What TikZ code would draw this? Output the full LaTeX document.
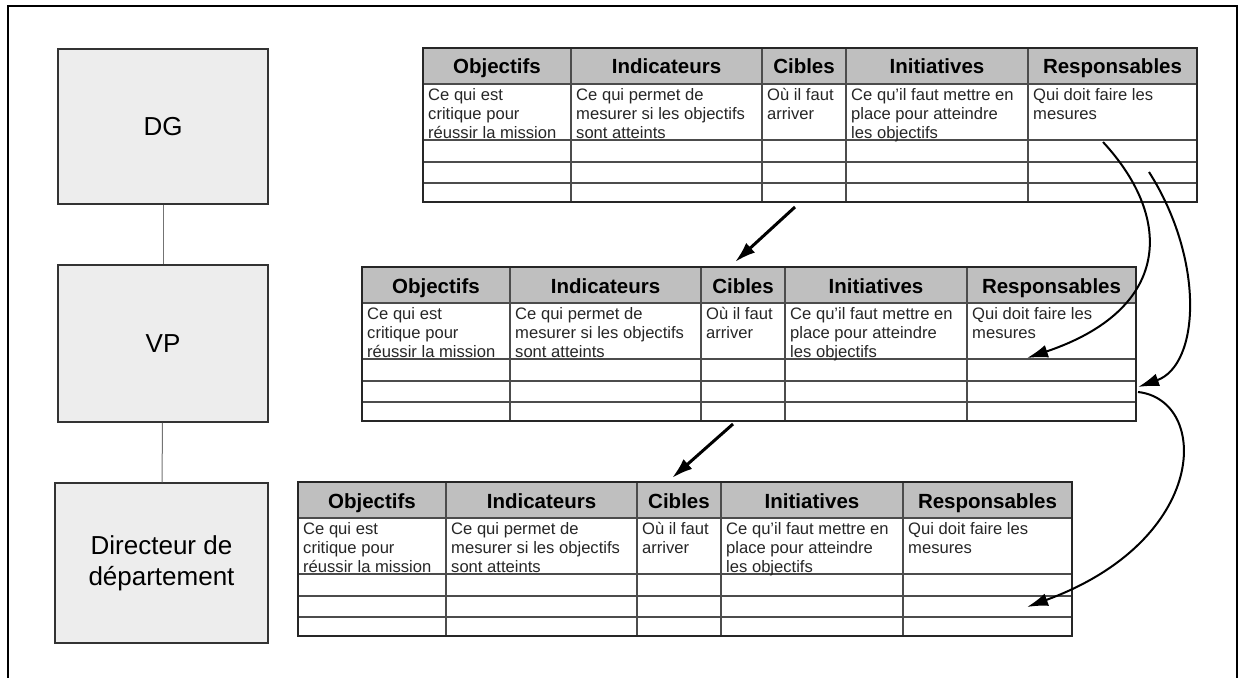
\documentclass[tikz,border=0pt]{standalone}
\usepackage{fontspec}
\setmainfont{Liberation Sans}
\usepackage{tikz}
\usetikzlibrary{arrows.meta, positioning, calc}

\begin{document}
\begin{tikzpicture}[x=1pt, y=-1pt, >={Latex[length=21pt, width=13pt]}]
    \path[use as bounding box] (0,0) rectangle (1241,677);
    \draw[line width=2pt] (8,6.5) rectangle (1237,700);
    \tikzset{
        level/.style={draw=black!80, line width=1.5pt, fill=black!7, font=\fontsize{26}{31}\selectfont, align=center, inner sep=0pt},
        head/.style={font=\bfseries\fontsize{20.5}{23}\selectfont, anchor=base, inner sep=0pt},
        cell/.style={font=\fontsize{16.6}{19}\selectfont, align=left, anchor=north west, inner sep=0pt, text=black!85},
        rule/.style={draw=black!70, line width=1.2pt},
        frame/.style={draw=black!85, line width=1.8pt},
        link/.style={draw=black!55, line width=1pt},
        bigarrow/.style={->, line width=3pt},
        curvearrow/.style={->, line width=2pt}
    }
    \node[level, minimum width=210pt, minimum height=155pt] (dg) at (163,126.5) {DG};
    \node[level, minimum width=210pt, minimum height=157pt] (vp) at (163,343.5) {VP};
    \node[level, minimum width=213pt, minimum height=160pt] (dir) at (161.5,563) {Directeur de\\département};
    \draw[link] (dg) -- (vp);
    \draw[link] (vp) -- (dir);
    \foreach \t/\ox/\oy in {dg/423/48, vp/362/267, dir/298/482} {
        \begin{scope}[shift={(\ox,\oy)}]
            \fill[black!25] (0,0) rectangle (774,36);
            \foreach \y in {36, 92, 114, 135}
                \draw[rule] (0,\y) -- (774,\y);
            \foreach \x in {148, 339, 423, 605}
                \draw[rule] (\x,0) -- (\x,154);
            \draw[frame] (0,0) rectangle (774,154);
            \foreach \n/\a/\b/\h/\c in {obj/0/148/Objectifs/{Ce qui est\\critique pour\\réussir la mission},
                    ind/148/339/Indicateurs/{Ce qui permet de\\mesurer si les objectifs\\sont atteints},
                    cib/339/423/Cibles/{Où il faut\\arriver},
                    ini/423/605/Initiatives/{Ce qu'il faut mettre en\\place pour atteindre\\les objectifs},
                    resp/605/774/Responsables/{Qui doit faire les\\mesures}} {
                \node[head] (\t-\n) at ({(\a+\b)/2},26) {\h};
                \node[cell] (\t-\n-txt) at (\a+5,40) {\c};
            }
        \end{scope}
    }
    \coordinate (dg-out) at (795,207);
    \coordinate (vp-in) at (735,262);
    \coordinate (vp-out) at (733,424);
    \coordinate (dir-in) at (672,478);
    \coordinate (dg-resp) at (1103,142);
    \coordinate (vp-resp) at (1027,358);
    \coordinate (dg-side) at (1149,172);
    \coordinate (vp-side) at (1138,387);
    \coordinate (vp-side2) at (1138,392);
    \coordinate (dir-resp) at (1027,607);
    \draw[bigarrow] (dg-out) -- (vp-in);
    \draw[bigarrow] (vp-out) -- (dir-in);
    \draw[curvearrow] (dg-resp) .. controls (1175,220) and (1170,310) .. (vp-resp);
    \draw[curvearrow] (dg-side) .. controls (1205,260) and (1200,365) .. (vp-side);
    \draw[curvearrow] (vp-side2) .. controls (1210,400) and (1210,540) .. (dir-resp);
\end{tikzpicture}
\end{document}
